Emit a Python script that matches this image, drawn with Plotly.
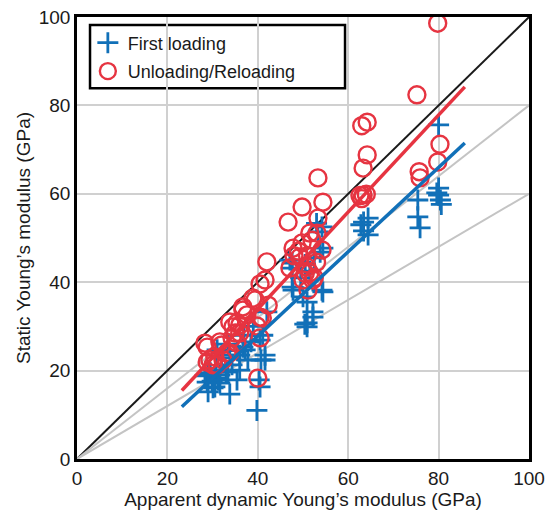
import plotly.graph_objects as go

# ---- data ----
first_x = [80.0, 80.0, 80.0, 80.4, 80.6, 79.6,
           75.4, 75.4, 75.9,
           64.4, 63.4, 62.8, 64.4, 63.4,
           53.0, 53.3, 54.2, 54.4, 53.8, 54.4, 54.2,
           47.6, 47.1, 47.6, 47.6, 47.8, 50.0, 50.9,
           52.2, 52.2, 50.9, 50.9, 50.4,
           49.5, 51.5, 50.5, 52.5,
           42.0, 41.1, 41.6, 40.7, 40.3, 39.8,
           36.9, 36.7, 36.0, 35.5,
           33.8, 34.3, 33.0, 33.8,
           31.6, 30.5, 29.9, 30.1, 28.8, 28.3, 31.6, 29.0, 30.8, 29.5,
           31.0, 32.0, 33.5, 38.5, 39.0,
           30.5, 31.2, 35.4, 36.0, 37.8, 37.2, 40.5, 40.5, 41.6, 29.0, 33.4]
first_y = [75.6, 61.3, 59.7, 58.6, 57.6, 60.2,
           58.6, 54.8, 52.3,
           54.5, 53.6, 53.0, 50.7, 51.6,
           53.3, 51.4, 52.5, 47.7, 46.8, 37.8, 38.2,
           44.3, 45.0, 43.2, 38.9, 38.2, 36.7, 35.5,
           33.3, 32.1, 30.8, 29.9, 30.5,
           41.0, 42.5, 44.0, 45.5,
           33.3, 28.0, 23.5, 22.4, 17.9, 11.0,
           28.0, 25.3, 23.5, 24.5,
           23.5, 21.3, 19.7, 14.7,
           19.0, 18.3, 17.6, 16.1, 17.4, 18.8, 17.2, 15.2, 20.0, 19.5,
           24.7, 22.9, 26.0, 26.5, 30.0,
           16.3, 17.9, 17.9, 20.1, 22.4, 24.7, 16.3, 26.9, 22.4, 19.0, 19.7]

reload_x = [79.8, 75.2, 80.3, 79.8, 75.7, 75.9,
            64.2, 63.0, 64.2, 63.3, 63.3, 62.6, 64.0, 63.0,
            53.3, 54.4, 49.8, 53.3, 46.7,
            53.1, 51.5, 49.8, 54.2, 47.8, 49.3, 47.1, 50.9, 51.5, 50.0, 52.2, 51.1,
            42.0, 41.6, 38.9, 36.7, 42.3, 48.0, 49.0, 52.0, 50.5, 53.0, 51.0, 52.5,
            40.5, 36.7, 40.5, 35.4, 36.0, 40.5, 28.8, 31.6, 34.3, 33.2, 29.4, 31.0, 28.8, 40.0,
            28.3, 30.5, 35.4, 35.0, 36.0, 33.8, 32.3, 30.1, 34.5, 33.8, 37.6, 39.4, 41.0, 39.8, 32.0]
reload_y = [98.6, 82.4, 71.2, 67.2, 65.0, 63.6,
            76.2, 75.4, 68.8, 65.8, 59.7, 59.6, 59.9, 58.9,
            63.6, 58.1, 57.0, 54.5, 53.6,
            51.1, 51.1, 48.9, 47.3, 47.7, 45.7, 43.2, 43.4, 42.1, 40.5, 40.5, 38.2,
            44.6, 40.5, 36.4, 34.4, 34.8, 46.0, 47.0, 49.5, 42.0, 44.5, 46.0, 41.0,
            39.6, 33.7, 32.1, 30.8, 28.5, 27.4, 25.3, 26.5, 27.4, 24.0, 22.4, 21.3, 21.9, 18.3,
            26.2, 23.1, 26.2, 28.5, 30.3, 24.0, 22.4, 21.3, 29.9, 31.0, 32.6, 36.0, 31.9, 30.1, 25.8]

fit_x = [23.2, 85.8]
first_fit_y = [11.8, 71.5]
reload_fit_y = [15.5, 84.2]

ref_x = [0, 100]
ref_slopes = [1.0, 0.8, 0.6]

BLUE = "#1170B8"
RED = "#E63441"
FONT = "Liberation Sans, Arial, Helvetica, sans-serif"

fig = go.Figure()

for s in ref_slopes:
    fig.add_trace(go.Scatter(
        x=ref_x, y=[v * s for v in ref_x], mode="lines",
        line=dict(color="#1a1a1a" if s == 1.0 else "#C4C4C4", width=2),
        showlegend=False, hoverinfo="skip"))

fig.add_trace(go.Scatter(
    x=first_x, y=first_y, mode="markers", name="First loading", legendgroup="a",
    marker=dict(symbol="cross-thin", size=15, line=dict(color=BLUE, width=2.8), color=BLUE)))
fig.add_trace(go.Scatter(
    x=reload_x, y=reload_y, mode="markers", name="Unloading/Reloading", legendgroup="b",
    marker=dict(symbol="circle-open", size=17, line=dict(color=RED, width=2.4), color=RED)))

fig.add_trace(go.Scatter(x=fit_x, y=first_fit_y, mode="lines",
                         line=dict(color=BLUE, width=3.5), showlegend=False))
fig.add_trace(go.Scatter(x=fit_x, y=reload_fit_y, mode="lines",
                         line=dict(color=RED, width=3.5), showlegend=False))

axis_common = dict(
    range=[0, 100], tickvals=[0, 20, 40, 60, 80, 100],
    showgrid=True, gridcolor="#D0D0D0", gridwidth=1.5,
    zeroline=False, showline=True, linecolor="black", linewidth=2.5, mirror=True,
    ticks="", automargin=False,
    tickfont=dict(size=19, color="#1a1a1a", family=FONT),
    title_font=dict(size=19, color="#1a1a1a", family=FONT),
)

fig.update_layout(
    width=550, height=514,
    margin=dict(l=77, r=21, t=17, b=55),
    paper_bgcolor="white", plot_bgcolor="white",
    font=dict(family=FONT, size=19, color="#1a1a1a"),
    xaxis=dict(axis_common, title=dict(text="Apparent dynamic Young’s modulus (GPa)", standoff=2)),
    yaxis=dict(axis_common, title=dict(text="Static Young’s modulus (GPa)", standoff=4)),
    legend=dict(x=0.024, y=0.983, xanchor="left", yanchor="top",
                traceorder="grouped", tracegroupgap=2,
                bgcolor="rgba(0,0,0,0)", borderwidth=0,
                font=dict(size=18, family=FONT, color="#1a1a1a")),
    shapes=[dict(type="rect", xref="paper", yref="paper",
                 x0=0.0288, x1=0.593, y0=0.839, y1=0.982,
                 line=dict(color="black", width=2.5), fillcolor="white", layer="below")],
)

fig.write_html("out.html")
